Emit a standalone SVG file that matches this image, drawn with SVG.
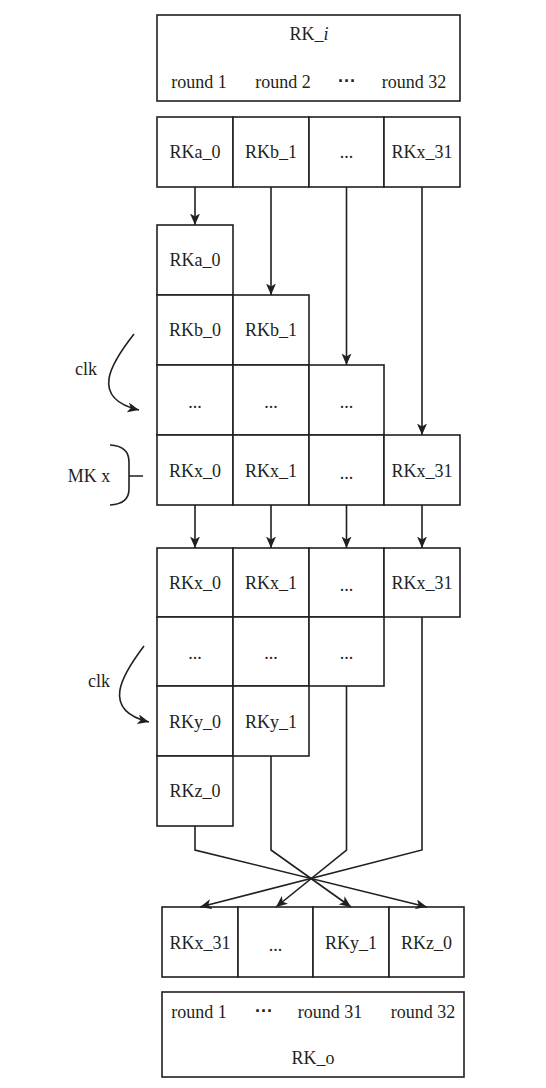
<svg xmlns="http://www.w3.org/2000/svg" width="546" height="1088" viewBox="0 0 546 1088">
<defs>
<style>
.c{fill:#fff;stroke:#231f20;stroke-width:1.6}
.t{font-family:"Liberation Serif","Times New Roman",serif;font-size:18px;text-anchor:middle;fill:#231f20}
.l{fill:none;stroke:#231f20;stroke-width:1.6}
.d{font-family:"Liberation Sans",Arial,sans-serif;font-size:18px;font-weight:bold;text-anchor:middle;fill:#231f20}
</style>
<marker id="ah" markerUnits="userSpaceOnUse" markerWidth="13" markerHeight="11" refX="11.5" refY="5" orient="auto">
<path d="M0,0 L11.5,5 L0,10 L3,5 z" fill="#231f20"/>
</marker>
</defs>
<rect width="546" height="1088" fill="#fff"/>

<g id="rk-i">
<rect class="c" x="157" y="15" width="303" height="86"/>
<text class="t" x="309" y="40">RK_<tspan font-style="italic">i</tspan></text>
<text class="t" x="199" y="88">round 1</text>
<text class="t" x="283" y="88">round 2</text>
<text class="d" x="347" y="87">···</text>
<text class="t" x="414" y="88">round 32</text>
</g>

<g id="row-in">
<rect class="c" x="157" y="117" width="76" height="70"/>
<rect class="c" x="233" y="117" width="76" height="70"/>
<rect class="c" x="309" y="117" width="75" height="70"/>
<rect class="c" x="384" y="117" width="76" height="70"/>
<text class="t" x="195" y="158">RKa_0</text>
<text class="t" x="271" y="158">RKb_1</text>
<text class="t" x="346.5" y="158">...</text>
<text class="t" x="422" y="158">RKx_31</text>
</g>

<g id="grid1">
<rect class="c" x="157" y="225" width="76" height="70"/>
<text class="t" x="195" y="266">RKa_0</text>
<rect class="c" x="157" y="295" width="76" height="70"/>
<rect class="c" x="233" y="295" width="76" height="70"/>
<text class="t" x="195" y="336">RKb_0</text>
<text class="t" x="271" y="336">RKb_1</text>
<rect class="c" x="157" y="365" width="76" height="70"/>
<rect class="c" x="233" y="365" width="76" height="70"/>
<rect class="c" x="309" y="365" width="75" height="70"/>
<text class="t" x="195" y="408">...</text>
<text class="t" x="271" y="408">...</text>
<text class="t" x="346.5" y="408">...</text>
</g>

<g id="mk-row">
<rect class="c" x="157" y="435" width="76" height="70"/>
<rect class="c" x="233" y="435" width="76" height="70"/>
<rect class="c" x="309" y="435" width="75" height="70"/>
<rect class="c" x="384" y="435" width="76" height="70"/>
<text class="t" x="195" y="477">RKx_0</text>
<text class="t" x="271" y="477">RKx_1</text>
<text class="t" x="346.5" y="479">...</text>
<text class="t" x="422" y="477">RKx_31</text>
</g>

<g id="mk-label">
<text class="t" x="89" y="482">MK x</text>
<path class="l" d="M110,445 Q129,446 129,462 L129,489 Q129,504 110,505 M129,476 L143,476"/>
</g>

<g id="clk1">
<text class="t" x="86" y="375">clk</text>
<path class="l" d="M134,334 C112,362 88,398 139,410" marker-end="url(#ah)"/>
</g>

<g id="grid2">
<rect class="c" x="157" y="548" width="76" height="69"/>
<rect class="c" x="233" y="548" width="76" height="69"/>
<rect class="c" x="309" y="548" width="75" height="69"/>
<rect class="c" x="384" y="548" width="76" height="69"/>
<text class="t" x="195" y="589">RKx_0</text>
<text class="t" x="271" y="589">RKx_1</text>
<text class="t" x="346.5" y="591">...</text>
<text class="t" x="422" y="589">RKx_31</text>
<rect class="c" x="157" y="617" width="76" height="69"/>
<rect class="c" x="233" y="617" width="76" height="69"/>
<rect class="c" x="309" y="617" width="75" height="69"/>
<text class="t" x="195" y="659">...</text>
<text class="t" x="271" y="659">...</text>
<text class="t" x="346.5" y="659">...</text>
<rect class="c" x="157" y="686" width="76" height="70"/>
<rect class="c" x="233" y="686" width="76" height="70"/>
<text class="t" x="195" y="728">RKy_0</text>
<text class="t" x="271" y="728">RKy_1</text>
<rect class="c" x="157" y="756" width="76" height="70"/>
<text class="t" x="195" y="797">RKz_0</text>
</g>

<g id="clk2">
<text class="t" x="99" y="687">clk</text>
<path class="l" d="M144,646 C122,675 100,710 149,722" marker-end="url(#ah)"/>
</g>

<g id="row-out">
<rect class="c" x="162" y="907" width="76" height="70"/>
<rect class="c" x="238" y="907" width="75" height="70"/>
<rect class="c" x="313" y="907" width="76" height="70"/>
<rect class="c" x="389" y="907" width="75" height="70"/>
<text class="t" x="200" y="949">RKx_31</text>
<text class="t" x="275.5" y="951">...</text>
<text class="t" x="351" y="949">RKy_1</text>
<text class="t" x="426.5" y="949">RKz_0</text>
</g>

<g id="rk-o">
<rect class="c" x="162" y="992" width="302" height="85"/>
<text class="t" x="199" y="1018">round 1</text>
<text class="d" x="264" y="1017">···</text>
<text class="t" x="330" y="1018">round 31</text>
<text class="t" x="423" y="1018">round 32</text>
<text class="t" x="313" y="1064">RK_o</text>
</g>

<g id="connectors">
<line class="l" x1="195" y1="187" x2="195" y2="225" marker-end="url(#ah)"/>
<line class="l" x1="271" y1="187" x2="271" y2="295" marker-end="url(#ah)"/>
<line class="l" x1="346.5" y1="187" x2="346.5" y2="365" marker-end="url(#ah)"/>
<line class="l" x1="422" y1="187" x2="422" y2="435" marker-end="url(#ah)"/>
<line class="l" x1="195" y1="505" x2="195" y2="548" marker-end="url(#ah)"/>
<line class="l" x1="271" y1="505" x2="271" y2="548" marker-end="url(#ah)"/>
<line class="l" x1="346.5" y1="505" x2="346.5" y2="548" marker-end="url(#ah)"/>
<line class="l" x1="422" y1="505" x2="422" y2="548" marker-end="url(#ah)"/>
<polyline class="l" points="195,826 195,850 427,907" marker-end="url(#ah)"/>
<polyline class="l" points="271,756 271,850 351,907" marker-end="url(#ah)"/>
<polyline class="l" points="346.5,686 346.5,850 276,907" marker-end="url(#ah)"/>
<polyline class="l" points="422,617 422,850 200,907" marker-end="url(#ah)"/>
</g>
</svg>
